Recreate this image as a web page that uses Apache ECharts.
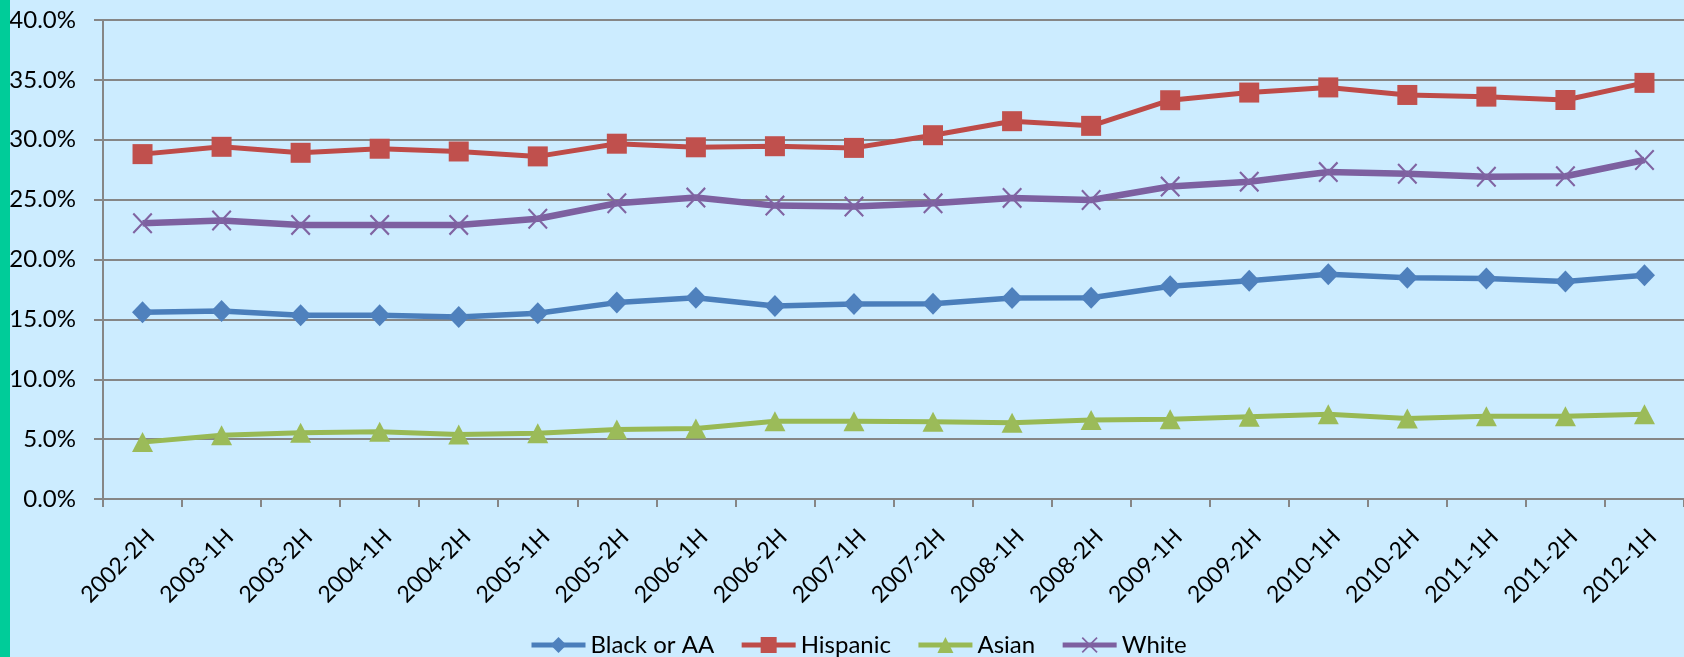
<!DOCTYPE html>
<html>
<head>
<meta charset="utf-8">
<script src="https://cdn.jsdelivr.net/npm/echarts@6/dist/echarts.min.js"></script>
<style>
html,body{margin:0;padding:0;background:#CCECFF;}
#chart{width:1684px;height:657px;}
</style>
</head>
<body>
<div id="chart"></div>
<script>
var categories = ['2002-2H','2003-1H','2003-2H','2004-1H','2004-2H','2005-1H','2005-2H','2006-1H','2006-2H','2007-1H','2007-2H','2008-1H','2008-2H','2009-1H','2009-2H','2010-1H','2010-2H','2011-1H','2011-2H','2012-1H'];
var blackAA  = [15.59,15.70,15.34,15.34,15.20,15.51,16.40,16.81,16.11,16.28,16.31,16.78,16.81,17.76,18.23,18.76,18.48,18.41,18.17,18.69];
var hispanic = [28.80,29.41,28.91,29.25,29.02,28.61,29.67,29.37,29.46,29.32,30.38,31.55,31.16,33.30,33.94,34.37,33.74,33.60,33.32,34.75];
var asian    = [4.75,5.33,5.53,5.61,5.39,5.50,5.81,5.89,6.50,6.50,6.45,6.37,6.59,6.67,6.87,7.07,6.72,6.90,6.90,7.07];
var white    = [23.03,23.26,22.89,22.89,22.89,23.40,24.70,25.17,24.50,24.42,24.69,25.14,24.97,26.09,26.50,27.30,27.16,26.91,26.95,28.31];
var seriesNames = ['Black or AA','Hispanic','Asian','White'];

var FONT = 'Lato';
var xPath = 'path://M0,1.5L1.5,0L10,8.5L18.5,0L20,1.5L11.5,10L20,18.5L18.5,20L10,11.5L1.5,20L0,18.5L8.5,10Z';

var chart = echarts.init(document.getElementById('chart'));
chart.setOption({
  backgroundColor: '#CCECFF',
  animation: false,
  graphic: [{
    type: 'rect', left: 0, top: 0,
    shape: {width: 10, height: 657},
    style: {fill: '#00CC99'}, z: 100
  }],
  legend: {
    left: 524, top: 628,
    itemWidth: 54, itemHeight: 20, itemGap: 25,
    lineStyle: {width: 5},
    textStyle: {fontFamily: FONT, fontSize: 24, color: '#000'},
    data: seriesNames
  },
  grid: {left: 103, right: -9, top: 20, bottom: 158, containLabel: false},
  xAxis: {
    type: 'category',
    data: categories,
    boundaryGap: true,
    axisLine: {lineStyle: {color: '#868686', width: 2}},
    axisTick: {show: true, length: 8, alignWithLabel: false, lineStyle: {color: '#868686', width: 2}},
    axisLabel: {rotate: 45, margin: 26, verticalAlign: 'top', fontFamily: FONT, fontSize: 23, color: '#000', interval: 0}
  },
  yAxis: {
    type: 'value', min: 0, max: 40, interval: 5,
    axisLine: {show: true, lineStyle: {color: '#868686', width: 2}},
    axisTick: {show: true, length: 9, lineStyle: {color: '#868686', width: 2}},
    splitLine: {lineStyle: {color: '#868686', width: 2}},
    axisLabel: {margin: 27, fontFamily: FONT, fontSize: 24, color: '#000',
      formatter: function(v){ return v.toFixed(1) + '%'; }}
  },
  series: [
    {name: 'Black or AA', type: 'line', data: blackAA, symbol: 'diamond', symbolSize: [21,22],
     lineStyle: {color: '#4A7EBB', width: 5.5}, itemStyle: {color: '#4F81BD'}},
    {name: 'Hispanic', type: 'line', data: hispanic, symbol: 'rect', symbolSize: 20,
     lineStyle: {color: '#BE4B48', width: 5}, itemStyle: {color: '#C0504D'}},
    {name: 'Asian', type: 'line', data: asian, symbol: 'triangle', symbolSize: [21,20],
     lineStyle: {color: '#98B954', width: 5}, itemStyle: {color: '#9BBB59'}},
    {name: 'White', type: 'line', data: white, symbol: xPath, symbolSize: [20,21],
     lineStyle: {color: '#7D60A0', width: 6.5}, itemStyle: {color: '#8064A2'}}
  ]
});
</script>
</body>
</html>
